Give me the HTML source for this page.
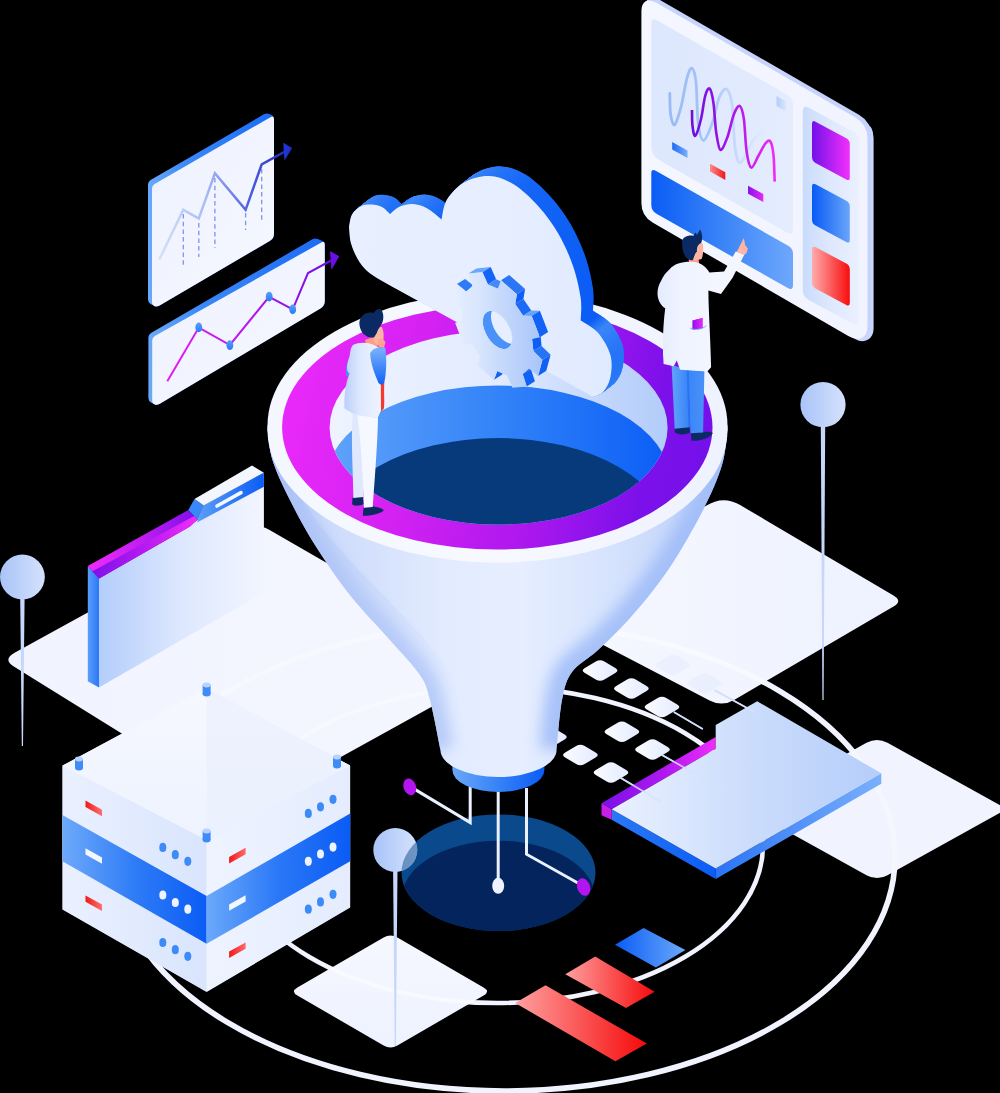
<!DOCTYPE html>
<html><head><meta charset="utf-8"><title>Isometric funnel</title>
<style>html,body{margin:0;padding:0;background:#000;font-family:"Liberation Sans",sans-serif}svg{display:block}</style>
</head><body>
<svg width="1000" height="1093" viewBox="0 0 1000 1093">
<defs>
<linearGradient id="gPlatL" gradientUnits="userSpaceOnUse" x1="14" y1="660" x2="504" y2="660"><stop offset="0" stop-color="#f1f4ff"/><stop offset="1" stop-color="#f5f7ff"/></linearGradient>
<linearGradient id="gPlatR" gradientUnits="userSpaceOnUse" x1="548" y1="600" x2="898" y2="600"><stop offset="0" stop-color="#f6f8ff"/><stop offset="1" stop-color="#eef2ff"/></linearGradient>
<linearGradient id="gTile" gradientUnits="objectBoundingBox" x1="0" y1="0" x2="1" y2="0"><stop offset="0" stop-color="#fbfcff"/><stop offset="1" stop-color="#e3ebff"/></linearGradient>
<linearGradient id="gBarB" gradientUnits="userSpaceOnUse" x1="615" y1="0" x2="685" y2="0"><stop offset="0" stop-color="#0a5cf5"/><stop offset="1" stop-color="#6aa8fa"/></linearGradient>
<linearGradient id="gBarR1" gradientUnits="userSpaceOnUse" x1="565" y1="0" x2="655" y2="0"><stop offset="0" stop-color="#ffa0a0"/><stop offset="1" stop-color="#f60a0a"/></linearGradient>
<linearGradient id="gBarR2" gradientUnits="userSpaceOnUse" x1="515" y1="0" x2="647" y2="0"><stop offset="0" stop-color="#ffa0a0"/><stop offset="1" stop-color="#f60a0a"/></linearGradient>
<linearGradient id="gPlatB" gradientUnits="userSpaceOnUse" x1="0" y1="934" x2="0" y2="1049"><stop offset="0" stop-color="#f6f8ff"/><stop offset="1" stop-color="#eef2ff"/></linearGradient>
<linearGradient id="gSlabTop" gradientUnits="userSpaceOnUse" x1="611" y1="0" x2="881" y2="0"><stop offset="0" stop-color="#eaf1ff"/><stop offset="0.45" stop-color="#cfdffc"/><stop offset="1" stop-color="#b4cdfa"/></linearGradient>
<linearGradient id="gSlabL" gradientUnits="userSpaceOnUse" x1="611" y1="0" x2="716" y2="0"><stop offset="0" stop-color="#2a78f7"/><stop offset="1" stop-color="#0a5cf5"/></linearGradient>
<linearGradient id="gSlabR" gradientUnits="userSpaceOnUse" x1="716" y1="0" x2="881" y2="0"><stop offset="0" stop-color="#2a74f7"/><stop offset="1" stop-color="#7ab0fb"/></linearGradient>
<linearGradient id="gSlabM" gradientUnits="userSpaceOnUse" x1="601" y1="0" x2="716" y2="0"><stop offset="0" stop-color="#7a10ea"/><stop offset="0.55" stop-color="#b018f0"/><stop offset="1" stop-color="#f02cfa"/></linearGradient>
<linearGradient id="gFoldF" gradientUnits="userSpaceOnUse" x1="99" y1="0" x2="264" y2="0"><stop offset="0" stop-color="#b4cdfb"/><stop offset="0.5" stop-color="#dde8fe"/><stop offset="1" stop-color="#f2f5ff"/></linearGradient>
<linearGradient id="gFoldS" gradientUnits="userSpaceOnUse" x1="88" y1="0" x2="99" y2="0"><stop offset="0" stop-color="#5a9cf9"/><stop offset="1" stop-color="#2a78f7"/></linearGradient>
<linearGradient id="gFoldM" gradientUnits="userSpaceOnUse" x1="88" y1="0" x2="198" y2="0"><stop offset="0" stop-color="#f02cfa"/><stop offset="0.5" stop-color="#c01cf0"/><stop offset="1" stop-color="#7a10ea"/></linearGradient>
<linearGradient id="gFoldB" gradientUnits="userSpaceOnUse" x1="199" y1="0" x2="264" y2="0"><stop offset="0" stop-color="#5a9cf9"/><stop offset="1" stop-color="#0a5cf5"/></linearGradient>
<linearGradient id="gFoldM2" gradientUnits="userSpaceOnUse" x1="88" y1="0" x2="198" y2="0"><stop offset="0" stop-color="#7a10ea"/><stop offset="0.5" stop-color="#b41af0"/><stop offset="1" stop-color="#f02cfa"/></linearGradient>
<linearGradient id="gSrvTop" gradientUnits="userSpaceOnUse" x1="0" y1="690" x2="0" y2="840"><stop offset="0" stop-color="#f6f8ff"/><stop offset="1" stop-color="#eef3ff"/></linearGradient>
<linearGradient id="gSrvL" gradientUnits="userSpaceOnUse" x1="62" y1="0" x2="207" y2="0"><stop offset="0" stop-color="#eaf0ff"/><stop offset="1" stop-color="#d9e5fd"/></linearGradient>
<linearGradient id="gSrvR" gradientUnits="userSpaceOnUse" x1="207" y1="0" x2="350" y2="0"><stop offset="0" stop-color="#eef3ff"/><stop offset="1" stop-color="#e4ecfe"/></linearGradient>
<linearGradient id="gSrvBL" gradientUnits="userSpaceOnUse" x1="62" y1="0" x2="207" y2="0"><stop offset="0" stop-color="#6eaafa"/><stop offset="0.5" stop-color="#2f7cf7"/><stop offset="1" stop-color="#0a5cf5"/></linearGradient>
<linearGradient id="gSrvBR" gradientUnits="userSpaceOnUse" x1="207" y1="0" x2="350" y2="0"><stop offset="0" stop-color="#6aa8fa"/><stop offset="0.5" stop-color="#2a78f7"/><stop offset="1" stop-color="#0a5cf5"/></linearGradient>
<linearGradient id="gRedL" gradientUnits="objectBoundingBox" x1="0" y1="0" x2="1" y2="0"><stop offset="0" stop-color="#f01818"/><stop offset="1" stop-color="#ff7070"/></linearGradient>
<linearGradient id="gRedR" gradientUnits="objectBoundingBox" x1="0" y1="0" x2="1" y2="0"><stop offset="0" stop-color="#f01818"/><stop offset="1" stop-color="#ff6a6a"/></linearGradient>
<linearGradient id="gNeckB" gradientUnits="userSpaceOnUse" x1="452" y1="0" x2="545" y2="0"><stop offset="0" stop-color="#6aa8fa"/><stop offset="0.45" stop-color="#3a86f8"/><stop offset="1" stop-color="#0a5cf5"/></linearGradient>
<linearGradient id="gBody" gradientUnits="userSpaceOnUse" x1="267" y1="0" x2="728" y2="0"><stop offset="0" stop-color="#bccff8"/><stop offset="0.14" stop-color="#cedcfb"/><stop offset="0.4" stop-color="#e3ecff"/><stop offset="0.55" stop-color="#e6eeff"/><stop offset="0.76" stop-color="#d5e2fd"/><stop offset="1" stop-color="#b8cdf9"/></linearGradient>
<filter id="fBlur" x="-20%" y="-20%" width="140%" height="140%"><feGaussianBlur stdDeviation="7"/></filter>
<linearGradient id="gShade" gradientUnits="userSpaceOnUse" x1="267" y1="0" x2="470" y2="0"><stop offset="0" stop-color="#a9c0f6" stop-opacity="0.55"/><stop offset="0.5" stop-color="#b9ccf8" stop-opacity="0.35"/><stop offset="1" stop-color="#c8d8fa" stop-opacity="0.0"/></linearGradient>
<linearGradient id="gShadeR" gradientUnits="userSpaceOnUse" x1="600" y1="0" x2="728" y2="0"><stop offset="0" stop-color="#c8d8fa" stop-opacity="0.0"/><stop offset="1" stop-color="#a9c0f6" stop-opacity="0.4"/></linearGradient>
<linearGradient id="gBodyHi" gradientUnits="userSpaceOnUse" x1="0" y1="560" x2="0" y2="700"><stop offset="0" stop-color="#f4f7ff" stop-opacity="0.0"/><stop offset="1" stop-color="#f4f7ff" stop-opacity="0.55"/></linearGradient>
<linearGradient id="gRim" gradientUnits="userSpaceOnUse" x1="267" y1="0" x2="728" y2="0"><stop offset="0" stop-color="#f4f7ff"/><stop offset="0.5" stop-color="#f7f9ff"/><stop offset="1" stop-color="#eef2ff"/></linearGradient>
<linearGradient id="gRing" gradientUnits="userSpaceOnUse" x1="282" y1="385" x2="713" y2="475"><stop offset="0" stop-color="#ea29f9"/><stop offset="0.3" stop-color="#d422f3"/><stop offset="0.6" stop-color="#ae18ee"/><stop offset="0.85" stop-color="#7c10ea"/><stop offset="1" stop-color="#7410ea"/></linearGradient>
<linearGradient id="gWall" gradientUnits="userSpaceOnUse" x1="329" y1="0" x2="667" y2="0"><stop offset="0" stop-color="#eef3ff"/><stop offset="0.5" stop-color="#e2ebff"/><stop offset="0.8" stop-color="#c4d7fb"/><stop offset="1" stop-color="#b2ccfa"/></linearGradient>
<linearGradient id="gInB" gradientUnits="userSpaceOnUse" x1="329" y1="0" x2="667" y2="0"><stop offset="0" stop-color="#5fa2fa"/><stop offset="0.5" stop-color="#3383f8"/><stop offset="1" stop-color="#0b5ef6"/></linearGradient>
<path id="cloud" d="M349,227C349.5,224.9 350,218.1 352,214.6C354,211.1 357.7,207.9 361,206.2C364.3,204.5 368.5,204.4 372,204.5C375.5,204.6 379,205.4 382,207C385,208.6 388.7,212.8 390,214C391.5,212.8 395.2,208.7 399,207C402.8,205.3 408.3,203.8 413,204C417.7,204.2 422.2,205.7 427,208.3C431.8,210.9 439.1,217.6 441.5,219.5C442.4,216.2 443.1,205.8 447,199.5C450.9,193.2 457.9,185.9 465,182C472.1,178.1 481.3,175.6 489.5,176C497.7,176.4 505.8,179.4 514,184.6C522.2,189.8 531.6,198.8 539,207C546.4,215.2 552.8,224.2 558.5,234C564.2,243.8 569.3,255.3 573,266C576.7,276.7 579.4,288.9 580.7,298C582,307.1 580.7,316.7 580.7,320.4C583.6,322.4 593,326.9 598,332.7C603,338.5 608.3,347.6 610.4,355C612.5,362.4 611.6,371 610.4,377.2C609.2,383.4 605.9,388.7 603,392C600.1,395.3 594.7,396.2 593,397L396,288.8C392,286.5 378.1,279.2 372,274.8C365.9,270.4 363.1,267.3 359.6,262.2C356.1,257.1 353,249.9 351.2,244C349.4,238.1 349.4,229.8 349,227Z"/>
<linearGradient id="gCloudS" gradientUnits="userSpaceOnUse" x1="349" y1="0" x2="625" y2="0"><stop offset="0" stop-color="#4a90f9"/><stop offset="0.16" stop-color="#1a6af6"/><stop offset="0.2" stop-color="#3f8af9"/><stop offset="0.36" stop-color="#0c5ef5"/><stop offset="0.4" stop-color="#3a86f8"/><stop offset="0.62" stop-color="#1566f6"/><stop offset="0.86" stop-color="#0a5cf5"/><stop offset="0.9" stop-color="#3a86f8"/><stop offset="1" stop-color="#0f62f6"/></linearGradient>
<linearGradient id="gCloudF" gradientUnits="userSpaceOnUse" x1="349" y1="0" x2="612" y2="0"><stop offset="0" stop-color="#e8efff"/><stop offset="0.6" stop-color="#e6eeff"/><stop offset="1" stop-color="#e0eaff"/></linearGradient>
<linearGradient id="gGearS" gradientUnits="userSpaceOnUse" x1="455" y1="0" x2="550" y2="0"><stop offset="0" stop-color="#6aa8fa"/><stop offset="0.5" stop-color="#3a86f8"/><stop offset="1" stop-color="#0a5cf5"/></linearGradient>
<linearGradient id="gGearF" gradientUnits="userSpaceOnUse" x1="455" y1="0" x2="545" y2="0"><stop offset="0" stop-color="#e6eeff"/><stop offset="0.25" stop-color="#d9e6fe"/><stop offset="0.6" stop-color="#c0d5fb"/><stop offset="1" stop-color="#a6c4fa"/></linearGradient>
<linearGradient id="gPanE" gradientUnits="userSpaceOnUse" x1="149" y1="0" x2="325" y2="0"><stop offset="0" stop-color="#5a9cf9"/><stop offset="1" stop-color="#1a6af6"/></linearGradient>
<linearGradient id="gPanF" gradientUnits="objectBoundingBox" x1="0" y1="0" x2="1" y2="1"><stop offset="0" stop-color="#eef2ff"/><stop offset="1" stop-color="#f6f8ff"/></linearGradient>
<linearGradient id="gPanE1" gradientUnits="userSpaceOnUse" x1="148" y1="0" x2="274" y2="0"><stop offset="0" stop-color="#6aaaf9"/><stop offset="0.3" stop-color="#3b88f8"/><stop offset="1" stop-color="#1a6af6"/></linearGradient>
<linearGradient id="gL1" gradientUnits="userSpaceOnUse" x1="159" y1="0" x2="290" y2="0"><stop offset="0" stop-color="#d4dffb"/><stop offset="0.35" stop-color="#a9bdf5"/><stop offset="0.7" stop-color="#4a5ce0"/><stop offset="1" stop-color="#2226b8"/></linearGradient>
<linearGradient id="gAr1" gradientUnits="userSpaceOnUse" x1="283" y1="0" x2="292" y2="0"><stop offset="0" stop-color="#1a3ae0"/><stop offset="1" stop-color="#2a2ab8"/></linearGradient>
<linearGradient id="gPanE2" gradientUnits="userSpaceOnUse" x1="148" y1="0" x2="325" y2="0"><stop offset="0" stop-color="#6aaaf9"/><stop offset="0.3" stop-color="#3b88f8"/><stop offset="1" stop-color="#1a6af6"/></linearGradient>
<linearGradient id="gL2" gradientUnits="userSpaceOnUse" x1="168" y1="0" x2="335" y2="0"><stop offset="0" stop-color="#e41cf0"/><stop offset="0.5" stop-color="#b416ee"/><stop offset="1" stop-color="#6a10e4"/></linearGradient>
<linearGradient id="gDot" gradientUnits="objectBoundingBox" x1="0" y1="0" x2="0" y2="1"><stop offset="0" stop-color="#5a9ef9"/><stop offset="1" stop-color="#2a7af7"/></linearGradient>
<linearGradient id="gDash" gradientUnits="userSpaceOnUse" x1="641" y1="0" x2="874" y2="0"><stop offset="0" stop-color="#f4f7ff"/><stop offset="1" stop-color="#f1f4ff"/></linearGradient>
<linearGradient id="gDIn" gradientUnits="userSpaceOnUse" x1="651" y1="0" x2="793" y2="0"><stop offset="0" stop-color="#dde7fd"/><stop offset="1" stop-color="#e4ecfe"/></linearGradient>
<linearGradient id="gDBar" gradientUnits="userSpaceOnUse" x1="651" y1="0" x2="793" y2="0"><stop offset="0" stop-color="#0a5cf5"/><stop offset="0.5" stop-color="#3a84f8"/><stop offset="1" stop-color="#6ea8fb"/></linearGradient>
<linearGradient id="gDCol" gradientUnits="userSpaceOnUse" x1="803" y1="0" x2="859" y2="0"><stop offset="0" stop-color="#c9dcfc"/><stop offset="0.5" stop-color="#dfe8fd"/><stop offset="1" stop-color="#eaf0ff"/></linearGradient>
<linearGradient id="gDP" gradientUnits="userSpaceOnUse" x1="811" y1="0" x2="850" y2="0"><stop offset="0" stop-color="#7010e8"/><stop offset="1" stop-color="#f230fb"/></linearGradient>
<linearGradient id="gDB" gradientUnits="userSpaceOnUse" x1="811" y1="0" x2="850" y2="0"><stop offset="0" stop-color="#0558f5"/><stop offset="1" stop-color="#6aa6fa"/></linearGradient>
<linearGradient id="gDR" gradientUnits="userSpaceOnUse" x1="811" y1="0" x2="850" y2="0"><stop offset="0" stop-color="#ffb0b0"/><stop offset="1" stop-color="#f80c0c"/></linearGradient>
<linearGradient id="gW1" gradientUnits="userSpaceOnUse" x1="669" y1="0" x2="762" y2="0"><stop offset="0" stop-color="#98baf7"/><stop offset="0.45" stop-color="#a8c5f8"/><stop offset="0.75" stop-color="#cbdcfc"/><stop offset="1" stop-color="#e0e9fe"/></linearGradient>
<linearGradient id="gW2" gradientUnits="userSpaceOnUse" x1="690" y1="0" x2="775" y2="0"><stop offset="0" stop-color="#6a0ed8"/><stop offset="0.45" stop-color="#a414ea"/><stop offset="1" stop-color="#f02cf8"/></linearGradient>
<linearGradient id="gLs" gradientUnits="objectBoundingBox" x1="0" y1="0" x2="1" y2="0"><stop offset="0" stop-color="#b4cdfa"/><stop offset="1" stop-color="#dbe6fd"/></linearGradient>
<linearGradient id="gLb" gradientUnits="objectBoundingBox" x1="0" y1="0" x2="1" y2="0"><stop offset="0" stop-color="#1a6af6"/><stop offset="1" stop-color="#7ab0fb"/></linearGradient>
<linearGradient id="gLr" gradientUnits="objectBoundingBox" x1="0" y1="0" x2="1" y2="0"><stop offset="0" stop-color="#ff8a8a"/><stop offset="1" stop-color="#f01818"/></linearGradient>
<linearGradient id="gLp" gradientUnits="objectBoundingBox" x1="0" y1="0" x2="1" y2="0"><stop offset="0" stop-color="#8a12ea"/><stop offset="1" stop-color="#e428f8"/></linearGradient>
<linearGradient id="gPin" gradientUnits="objectBoundingBox" x1="0" y1="0" x2="1" y2="0"><stop offset="0" stop-color="#a9c4f8"/><stop offset="1" stop-color="#d4e1fc"/></linearGradient>
<linearGradient id="gJ1" gradientUnits="userSpaceOnUse" x1="344" y1="0" x2="381" y2="0"><stop offset="0" stop-color="#b9cff9"/><stop offset="0.45" stop-color="#dfe9fe"/><stop offset="1" stop-color="#eef3ff"/></linearGradient>
<linearGradient id="gSl1" gradientUnits="userSpaceOnUse" x1="369" y1="0" x2="386" y2="0"><stop offset="0" stop-color="#7ab2fb"/><stop offset="0.5" stop-color="#3a84f8"/><stop offset="1" stop-color="#0f62f6"/></linearGradient>
<linearGradient id="gSl1v" gradientUnits="userSpaceOnUse" x1="0" y1="348" x2="0" y2="385"><stop offset="0" stop-color="#7ab2fb"/><stop offset="1" stop-color="#0f62f6"/></linearGradient>
<linearGradient id="gLeg2" gradientUnits="userSpaceOnUse" x1="671" y1="0" x2="705" y2="0"><stop offset="0" stop-color="#64a4fa"/><stop offset="0.5" stop-color="#3a86f8"/><stop offset="1" stop-color="#4a90f9"/></linearGradient>
<linearGradient id="gCoat2" gradientUnits="userSpaceOnUse" x1="656" y1="0" x2="712" y2="0"><stop offset="0" stop-color="#e3ebfe"/><stop offset="0.4" stop-color="#eef3ff"/><stop offset="1" stop-color="#f3f6ff"/></linearGradient>
<linearGradient id="gPk" gradientUnits="userSpaceOnUse" x1="692" y1="0" x2="702" y2="0"><stop offset="0" stop-color="#8a12ea"/><stop offset="1" stop-color="#e428f8"/></linearGradient>
</defs>
<rect width="1000" height="1093" fill="#000"/>
<ellipse cx="504" cy="857" rx="391" ry="234" fill="none" stroke="#f1f4ff" stroke-width="5.6"/>
<ellipse cx="497" cy="845" rx="266" ry="158" fill="none" stroke="#f1f4ff" stroke-width="4.6"/>
<path d="M14.2,666.8Q2.3,659.4 14.6,652.7L238.2,529.7Q254,521 269.6,530L489.8,657Q505.4,666 489.6,674.7L260.8,801.3Q245,810 229.7,800.5Z" fill="url(#gPlatL)"/>
<path d="M557.7,621.3Q540,612 556.9,601.2L706.1,505.8Q723,495 740.2,505.1L893.5,595.4Q903,601 893.5,606.6L734.1,699.9Q722,707 709.6,700.5Z" fill="url(#gPlatR)"/>
<clipPath id="cPR"><path d="M557.7,621.3Q540,612 556.9,601.2L706.1,505.8Q723,495 740.2,505.1L893.5,595.4Q903,601 893.5,606.6L734.1,699.9Q722,707 709.6,700.5Z"/></clipPath>
<g clip-path="url(#cPR)" opacity="0.55"><ellipse cx="504" cy="857" rx="391" ry="234" fill="none" stroke="#fdfdff" stroke-width="5"/></g>
<path d="M657.7,667.6Q653.4,665.1 657.7,662.6L668.6,656.1Q672.9,653.6 677.2,656.1L688.1,662.6Q692.4,665.1 688.1,667.6L677.2,674.1Q672.9,676.6 668.6,674.1Z" fill="#e3eafd" opacity="0.55" clip-path="url(#cPR)"/>
<path d="M689.3,685.8Q685,683.3 689.3,680.8L700.2,674.3Q704.5,671.8 708.8,674.3L719.7,680.8Q724,683.3 719.7,685.8L708.8,692.3Q704.5,694.8 700.2,692.3Z" fill="#e3eafd" opacity="0.55" clip-path="url(#cPR)"/>
<clipPath id="cPL"><path d="M14.2,666.8Q2.3,659.4 14.6,652.7L238.2,529.7Q254,521 269.6,530L489.8,657Q505.4,666 489.6,674.7L260.8,801.3Q245,810 229.7,800.5Z"/></clipPath>
<g clip-path="url(#cPL)" opacity="0.5"><ellipse cx="504" cy="857" rx="391" ry="234" fill="none" stroke="#fbfcff" stroke-width="5"/><ellipse cx="497" cy="845" rx="266" ry="158" fill="none" stroke="#fbfcff" stroke-width="4"/></g>
<clipPath id="cHole"><ellipse cx="498.5" cy="872.7" rx="97" ry="58.3"/></clipPath>
<ellipse cx="498.5" cy="872.7" rx="97" ry="58.3" fill="#0a4a8c"/>
<ellipse cx="498.5" cy="899" rx="97" ry="58.3" fill="#03245c" clip-path="url(#cHole)"/>
<path d="M584.9,673.1Q580.6,670.6 584.9,668.1L595.8,661.6Q600.1,659.1 604.4,661.6L615.3,668.1Q619.6,670.6 615.3,673.1L604.4,679.6Q600.1,682.1 595.8,679.6Z" fill="url(#gTile)"/>
<path d="M616.2,691.1Q611.9,688.6 616.2,686.1L627.1,679.6Q631.4,677.1 635.7,679.6L646.6,686.1Q650.9,688.6 646.6,691.1L635.7,697.6Q631.4,700.1 627.1,697.6Z" fill="url(#gTile)"/>
<path d="M646.8,709.5Q642.5,707 646.8,704.5L657.7,698Q662,695.5 666.3,698L677.2,704.5Q681.5,707 677.2,709.5L666.3,716Q662,718.5 657.7,716Z" fill="url(#gTile)"/>
<path d="M606.7,734.3Q602.4,731.8 606.7,729.3L617.6,722.8Q621.9,720.3 626.2,722.8L637.1,729.3Q641.4,731.8 637.1,734.3L626.2,740.8Q621.9,743.3 617.6,740.8Z" fill="url(#gTile)"/>
<path d="M637.3,752Q633,749.5 637.3,747L648.2,740.5Q652.5,738 656.8,740.5L667.7,747Q672,749.5 667.7,752L656.8,758.5Q652.5,761 648.2,758.5Z" fill="url(#gTile)"/>
<path d="M565.2,757.4Q560.9,754.9 565.2,752.4L576.1,745.9Q580.4,743.4 584.7,745.9L595.6,752.4Q599.9,754.9 595.6,757.4L584.7,763.9Q580.4,766.4 576.1,763.9Z" fill="url(#gTile)"/>
<path d="M595.8,775.1Q591.5,772.6 595.8,770.1L606.7,763.6Q611,761.1 615.3,763.6L626.2,770.1Q630.5,772.6 626.2,775.1L615.3,781.6Q611,784.1 606.7,781.6Z" fill="url(#gTile)"/>
<path d="M534.2,739.5Q529.9,737 534.2,734.5L545.1,728Q549.4,725.5 553.7,728L564.6,734.5Q568.9,737 564.6,739.5L553.7,746Q549.4,748.5 545.1,746Z" fill="url(#gTile)"/>
<line x1="673.9" y1="712.1" x2="702.8" y2="729.1" stroke="#c4d6f8" stroke-width="1.6"/>
<line x1="714.7" y1="690.3" x2="754.5" y2="712.1" stroke="#c4d6f8" stroke-width="1.6"/>
<line x1="662" y1="755" x2="723.2" y2="789.6" stroke="#c4d6f8" stroke-width="1.6"/>
<line x1="620.5" y1="777.7" x2="660.3" y2="801.5" stroke="#c4d6f8" stroke-width="1.6"/>
<polygon points="615,944.7 643.6,928 685.4,950 655.9,967.6" fill="url(#gBarB)"/>
<polygon points="565.3,974.2 595.2,956.6 654.6,991.8 626,1008" fill="url(#gBarR1)"/>
<polygon points="515.2,1003 545.5,985.3 646.8,1043.5 615.4,1061.2" fill="url(#gBarR2)"/>
<path d="M759.2,815.8Q747,809 759.2,802.2L866.5,742.8Q877,737 887.5,742.8L998.3,804.2Q1007,809 998.3,813.8L887.5,875.2Q877,881 866.5,875.2Z" fill="#f1f4ff"/>
<clipPath id="cPS"><path d="M759.2,815.8Q747,809 759.2,802.2L866.5,742.8Q877,737 887.5,742.8L998.3,804.2Q1007,809 998.3,813.8L887.5,875.2Q877,881 866.5,875.2Z"/></clipPath>
<g clip-path="url(#cPS)" opacity="0.4"><ellipse cx="504" cy="857" rx="391" ry="234" fill="none" stroke="#fdfdff" stroke-width="5.6"/></g>
<path d="M297.4,995.5Q290.5,991.5 297.4,987.5L383.6,937.5Q390.5,933.5 397.4,937.5L483.6,987.5Q490.5,991.5 483.6,995.5L397.4,1045.5Q390.5,1049.5 383.6,1045.5Z" fill="url(#gPlatB)"/>
<clipPath id="cPB"><path d="M297.4,995.5Q290.5,991.5 297.4,987.5L383.6,937.5Q390.5,933.5 397.4,937.5L483.6,987.5Q490.5,991.5 483.6,995.5L397.4,1045.5Q390.5,1049.5 383.6,1045.5Z"/></clipPath>
<g clip-path="url(#cPB)" opacity="0.6"><ellipse cx="497" cy="845" rx="266" ry="158" fill="none" stroke="#fdfdff" stroke-width="4"/></g>
<polygon points="611.7,809.3 715.7,868.5 715.7,879 611.7,819.8" fill="url(#gSlabL)"/>
<polygon points="715.7,868.5 881.3,773.3 881.3,783.8 715.7,879" fill="url(#gSlabR)"/>
<polygon points="601.5,803.2 715.7,736.9 715.7,748.8 611.7,809.3" fill="url(#gSlabM)"/>
<polygon points="601.5,803.2 611.7,809.3 611.7,819.8 601.5,815.2" fill="#c81ee8"/>
<polygon points="611.7,809.3 715.7,748.8 715.7,725 757.2,701.2 881.3,773.3 715.7,868.5" fill="url(#gSlabTop)"/>
<line x1="673.9" y1="712.1" x2="702.8" y2="729.1" stroke="#d6e3fd" stroke-width="1.7" opacity="0.85"/>
<line x1="714.7" y1="690.3" x2="754.5" y2="712.1" stroke="#d6e3fd" stroke-width="1.7" opacity="0.85"/>
<line x1="662" y1="755" x2="723.2" y2="789.6" stroke="#d6e3fd" stroke-width="1.7" opacity="0.85"/>
<line x1="620.5" y1="777.7" x2="660.3" y2="801.5" stroke="#d6e3fd" stroke-width="1.7" opacity="0.85"/>
<polygon points="87.8,566 99,578.5 99,687.4 87.8,681.2" fill="url(#gFoldS)"/>
<polygon points="99,578.5 186.7,528 197.6,519.4 203.8,505.4 263.9,472.7 263.9,592.5 99,687.4" fill="url(#gFoldF)"/>
<polygon points="87.8,566 188.3,510 197.6,519.4 190,526.5 99,578.5" fill="url(#gFoldM)"/>
<polygon points="92.5,571.2 194.2,516 197.6,519.4 190,526.5 99,578.5" fill="url(#gFoldM2)"/>
<polygon points="188.3,510 194.5,499.1 203.8,505.4 197.6,519.4" fill="#3a88f8"/>
<polygon points="194.5,499.1 252,465.5 263.9,472.7 203.8,505.4" fill="#f3f6ff"/>
<polygon points="203.8,505.4 263.9,472.7 263.9,486.7 197,522.5 199.5,515" fill="url(#gFoldB)"/>
<line x1="217" y1="506" x2="241" y2="492.6" stroke="#f4f7ff" stroke-width="3.6" stroke-linecap="round"/>
<polygon points="62.8,765.6 206.6,688.4 349.8,765.6 349.8,907.2 206.6,991.5 62.8,909.2" fill="#e9effe"/>
<polygon points="62.4,765.6 206.6,839.9 206.6,991.9 62.4,909.6" fill="url(#gSrvL)"/>
<polygon points="206.6,839.9 350.2,765.6 350.2,907.6 206.6,991.9" fill="url(#gSrvR)"/>
<polygon points="62.4,815 206.6,896 206.6,943.8 62.4,861.3" fill="url(#gSrvBL)"/>
<polygon points="206.6,896 350.2,813.4 350.2,861.3 206.6,943.8" fill="url(#gSrvBR)"/>
<polygon points="62.4,765.6 206.6,688 350.2,765.6 206.6,839.9" fill="url(#gSrvTop)"/>
<polygon points="206.6,688 350.2,765.6 206.6,839.9" fill="#e9effe" opacity="0.7"/>
<polygon points="85.5,800.6 102,809.8 102,816.2 85.5,807" fill="url(#gRedL)"/>
<polygon points="85.5,848.2 102,857.4 102,863.8 85.5,854.6" fill="#f4f7ff"/>
<polygon points="85.5,895.4 102,904.6 102,911 85.5,901.8" fill="url(#gRedL)"/>
<polygon points="229.1,857 245.6,847.8 245.6,854.2 229.1,863.4" fill="url(#gRedR)"/>
<polygon points="229.1,904.4 245.6,895.2 245.6,901.6 229.1,910.8" fill="#f4f7ff"/>
<polygon points="229.1,951.6 245.6,942.4 245.6,948.8 229.1,958" fill="url(#gRedR)"/>
<ellipse cx="162.8" cy="847.4" rx="3.5" ry="4.6" fill="#3d8bf8"/>
<ellipse cx="175.3" cy="854.7" rx="3.5" ry="4.6" fill="#3d8bf8"/>
<ellipse cx="187.8" cy="861.3" rx="3.5" ry="4.6" fill="#3d8bf8"/>
<ellipse cx="162.8" cy="895" rx="3.5" ry="4.6" fill="#eef3ff"/>
<ellipse cx="175.3" cy="902.5" rx="3.5" ry="4.6" fill="#eef3ff"/>
<ellipse cx="187.8" cy="909.2" rx="3.5" ry="4.6" fill="#eef3ff"/>
<ellipse cx="162.8" cy="942.5" rx="3.5" ry="4.6" fill="#3d8bf8"/>
<ellipse cx="175.3" cy="949.7" rx="3.5" ry="4.6" fill="#3d8bf8"/>
<ellipse cx="187.8" cy="956.3" rx="3.5" ry="4.6" fill="#3d8bf8"/>
<ellipse cx="308.3" cy="813.4" rx="3.5" ry="4.6" fill="#3d8bf8"/>
<ellipse cx="320.5" cy="806.8" rx="3.5" ry="4.6" fill="#3d8bf8"/>
<ellipse cx="333" cy="799.3" rx="3.5" ry="4.6" fill="#3d8bf8"/>
<ellipse cx="308.3" cy="861.3" rx="3.5" ry="4.6" fill="#eef3ff"/>
<ellipse cx="320.5" cy="854" rx="3.5" ry="4.6" fill="#eef3ff"/>
<ellipse cx="333" cy="847.1" rx="3.5" ry="4.6" fill="#eef3ff"/>
<ellipse cx="308.3" cy="909.2" rx="3.5" ry="4.6" fill="#3d8bf8"/>
<ellipse cx="320.5" cy="901.9" rx="3.5" ry="4.6" fill="#3d8bf8"/>
<ellipse cx="333" cy="894.3" rx="3.5" ry="4.6" fill="#3d8bf8"/>
<rect x="202.6" y="685" width="8" height="9" fill="#3f8cf8"/>
<ellipse cx="206.6" cy="694" rx="4" ry="2.4" fill="#3f8cf8"/>
<ellipse cx="206.6" cy="685" rx="4" ry="2.4" fill="#b8d2fb"/>
<rect x="75" y="759" width="8" height="9" fill="#3f8cf8"/>
<ellipse cx="79" cy="768" rx="4" ry="2.4" fill="#3f8cf8"/>
<ellipse cx="79" cy="759" rx="4" ry="2.4" fill="#b8d2fb"/>
<rect x="333" y="757" width="8" height="9" fill="#3f8cf8"/>
<ellipse cx="337" cy="766" rx="4" ry="2.4" fill="#3f8cf8"/>
<ellipse cx="337" cy="757" rx="4" ry="2.4" fill="#b8d2fb"/>
<rect x="202.6" y="831" width="8" height="9" fill="#3f8cf8"/>
<ellipse cx="206.6" cy="840" rx="4" ry="2.4" fill="#3f8cf8"/>
<ellipse cx="206.6" cy="831" rx="4" ry="2.4" fill="#b8d2fb"/>
<polyline points="470.2,786 470.2,822.6 415.3,789.6" fill="none" stroke="#eaf0ff" stroke-width="3"/>
<ellipse cx="409.8" cy="786.9" rx="6.2" ry="8.6" fill="#b414ee" transform="rotate(-20 409.8 786.9)"/>
<line x1="498.2" y1="790" x2="498.2" y2="884" stroke="#eaf0ff" stroke-width="3"/>
<ellipse cx="498.2" cy="885.8" rx="6" ry="8" fill="#eef3ff"/>
<polyline points="526.5,788 526.5,854.2 582.8,885.7" fill="none" stroke="#eaf0ff" stroke-width="3"/>
<ellipse cx="583.6" cy="887" rx="6.4" ry="9" fill="#b414ee" transform="rotate(-20 583.6 887)"/>
<path d="M452.4,757 L452.4,770 A46,22 0 0 0 544.4,770 L544.4,757 Z" fill="url(#gNeckB)"/>
<path d="M267.5,428C268.3,433.3 268.8,448 272.5,460C276.2,472 282.9,485.8 290,500C297.1,514.2 305,529.2 315,545C325,560.8 337.5,579.2 350,595C362.5,610.8 378.3,626.7 390,640C401.7,653.3 413.3,665 420,675C426.7,685 426.6,687.5 430,700C433.4,712.5 438.8,741.7 440.5,750A58,27 0 0 0 556.5,750C557.4,741.7 559.4,713 562,700C564.6,687 566,680.3 572,672C578,663.7 588.3,659 598,650C607.7,641 618.3,631.3 630,618C641.7,604.7 656,587.7 668,570C680,552.3 693,529.5 702,512C711,494.5 717.8,479 722,465C726.2,451 726.6,434.2 727.5,428Z" fill="url(#gBody)"/>
<clipPath id="cBody"><path d="M267.5,428C268.3,433.3 268.8,448 272.5,460C276.2,472 282.9,485.8 290,500C297.1,514.2 305,529.2 315,545C325,560.8 337.5,579.2 350,595C362.5,610.8 378.3,626.7 390,640C401.7,653.3 413.3,665 420,675C426.7,685 426.6,687.5 430,700C433.4,712.5 438.8,741.7 440.5,750A58,27 0 0 0 556.5,750C557.4,741.7 559.4,713 562,700C564.6,687 566,680.3 572,672C578,663.7 588.3,659 598,650C607.7,641 618.3,631.3 630,618C641.7,604.7 656,587.7 668,570C680,552.3 693,529.5 702,512C711,494.5 717.8,479 722,465C726.2,451 726.6,434.2 727.5,428Z"/></clipPath>
<g clip-path="url(#cBody)"><path d="M556.5,750C557.4,741.7 559.4,713 562,700C564.6,687 566,680.3 572,672C578,663.7 588.3,659 598,650C607.7,641 618.3,631.3 630,618C641.7,604.7 656,587.7 668,570C680,552.3 693,529.5 702,512C711,494.5 717.8,479 722,465C726.2,451 726.6,434.2 727.5,428" fill="none" stroke="#9fbcf8" stroke-width="34" filter="url(#fBlur)" opacity="0.85"/><path d="M267.5,428C268.3,433.3 268.8,448 272.5,460C276.2,472 282.9,485.8 290,500C297.1,514.2 305,529.2 315,545C325,560.8 337.5,579.2 350,595C362.5,610.8 378.3,626.7 390,640C401.7,653.3 413.3,665 420,675C426.7,685 426.6,687.5 430,700C433.4,712.5 438.8,741.7 440.5,750" fill="none" stroke="#a4bdf6" stroke-width="26" filter="url(#fBlur)" opacity="0.7"/></g>
<path d="M267.5,428C268.3,433.3 268.8,448 272.5,460C276.2,472 282.9,485.8 290,500C297.1,514.2 305,529.2 315,545C325,560.8 337.5,579.2 350,595C362.5,610.8 378.3,626.7 390,640C401.7,653.3 413.3,665 420,675C426.7,685 426.6,687.5 430,700C433.4,712.5 438.8,741.7 440.5,750L462,742C461.3,735 460,711.7 458,700C456,688.3 455.5,682 450,672C444.5,662 435.3,652 425,640C414.7,628 401.3,614.2 388,600C374.7,585.8 358.8,570.8 345,555C331.2,539.2 316.2,521.7 305,505C293.8,488.3 284.2,467.8 278,455C271.8,442.2 269.2,432.5 267.5,428Z" fill="url(#gShade)"/>
<path d="M267.5,425.5 L267.5,429.7 A230,133 0 0 0 727.5,429.7 L727.5,425.5 Z" fill="url(#gRim)"/>
<ellipse cx="497.5" cy="425.5" rx="230" ry="133" fill="url(#gRim)"/>
<ellipse cx="497.3" cy="427.3" rx="215.2" ry="122.2" fill="url(#gRing)"/>
<ellipse cx="498.6" cy="427.7" rx="169" ry="96.8" fill="url(#gWall)"/>
<clipPath id="cIn"><ellipse cx="498.6" cy="427.7" rx="169" ry="96.8"/></clipPath>
<ellipse cx="498" cy="480.5" rx="172" ry="95" fill="url(#gInB)" clip-path="url(#cIn)"/>
<ellipse cx="498" cy="536" rx="170" ry="98" fill="#063a7a" clip-path="url(#cIn)"/>
<use href="#cloud" transform="translate(12.3,-9.6)" fill="url(#gCloudS)"/>
<use href="#cloud" transform="translate(11.9,-9.3)" fill="url(#gCloudS)"/>
<use href="#cloud" transform="translate(11.6,-9)" fill="url(#gCloudS)"/>
<use href="#cloud" transform="translate(11.2,-8.8)" fill="url(#gCloudS)"/>
<use href="#cloud" transform="translate(10.9,-8.5)" fill="url(#gCloudS)"/>
<use href="#cloud" transform="translate(10.5,-8.2)" fill="url(#gCloudS)"/>
<use href="#cloud" transform="translate(10.1,-7.9)" fill="url(#gCloudS)"/>
<use href="#cloud" transform="translate(9.8,-7.6)" fill="url(#gCloudS)"/>
<use href="#cloud" transform="translate(9.4,-7.3)" fill="url(#gCloudS)"/>
<use href="#cloud" transform="translate(9,-7.1)" fill="url(#gCloudS)"/>
<use href="#cloud" transform="translate(8.7,-6.8)" fill="url(#gCloudS)"/>
<use href="#cloud" transform="translate(8.3,-6.5)" fill="url(#gCloudS)"/>
<use href="#cloud" transform="translate(8,-6.2)" fill="url(#gCloudS)"/>
<use href="#cloud" transform="translate(7.6,-5.9)" fill="url(#gCloudS)"/>
<use href="#cloud" transform="translate(7.2,-5.6)" fill="url(#gCloudS)"/>
<use href="#cloud" transform="translate(6.9,-5.4)" fill="url(#gCloudS)"/>
<use href="#cloud" transform="translate(6.5,-5.1)" fill="url(#gCloudS)"/>
<use href="#cloud" transform="translate(6.2,-4.8)" fill="url(#gCloudS)"/>
<use href="#cloud" transform="translate(5.8,-4.5)" fill="url(#gCloudS)"/>
<use href="#cloud" transform="translate(5.4,-4.2)" fill="url(#gCloudS)"/>
<use href="#cloud" transform="translate(5.1,-4)" fill="url(#gCloudS)"/>
<use href="#cloud" transform="translate(4.7,-3.7)" fill="url(#gCloudS)"/>
<use href="#cloud" transform="translate(4.3,-3.4)" fill="url(#gCloudS)"/>
<use href="#cloud" transform="translate(4,-3.1)" fill="url(#gCloudS)"/>
<use href="#cloud" transform="translate(3.6,-2.8)" fill="url(#gCloudS)"/>
<use href="#cloud" transform="translate(3.3,-2.5)" fill="url(#gCloudS)"/>
<use href="#cloud" transform="translate(2.9,-2.3)" fill="url(#gCloudS)"/>
<use href="#cloud" transform="translate(2.5,-2)" fill="url(#gCloudS)"/>
<use href="#cloud" transform="translate(2.2,-1.7)" fill="url(#gCloudS)"/>
<use href="#cloud" transform="translate(1.8,-1.4)" fill="url(#gCloudS)"/>
<use href="#cloud" transform="translate(1.4,-1.1)" fill="url(#gCloudS)"/>
<use href="#cloud" transform="translate(1.1,-0.8)" fill="url(#gCloudS)"/>
<use href="#cloud" transform="translate(0.7,-0.6)" fill="url(#gCloudS)"/>
<use href="#cloud" transform="translate(0.4,-0.3)" fill="url(#gCloudS)"/>
<use href="#cloud" fill="url(#gCloudF)"/>
<polygon points="468.3,273.6 482.5,272.3 490.7,267.1 476.5,268.4" fill="#6aa8fa"/>
<polygon points="482.5,272.3 487.9,284.5 496.1,279.3 490.7,267.1" fill="#1464f5"/>
<polygon points="487.9,284.5 497.8,288.7 506,283.5 496.1,279.3" fill="#458bf8"/>
<polygon points="501,280.2 516.9,294.3 525.1,289.1 509.2,275" fill="#2b76f6"/>
<polygon points="516.9,294.3 515.2,304.1 523.4,298.9 525.1,289.1" fill="#0d5ff5"/>
<polygon points="515.2,304.1 523.1,315.7 531.3,310.5 523.4,298.9" fill="#1c6af5"/>
<polygon points="523.1,315.7 531.7,316 539.9,310.8 531.3,310.5" fill="#66a5f9"/>
<polygon points="531.7,316 539.9,337.2 548.1,332 539.9,310.8" fill="#1263f5"/>
<polygon points="532.1,338.9 533.4,351.1 541.6,345.9 540.3,333.7" fill="#0c5ef5"/>
<polygon points="533.4,351.1 542.4,360 550.6,354.8 541.6,345.9" fill="#2773f6"/>
<polygon points="542.4,360 538.1,375.9 546.3,370.7 550.6,354.8" fill="#0f60f5"/>
<polygon points="528.8,368.5 522.7,374.1 530.9,368.9 537,363.3" fill="#2a75f6"/>
<polygon points="522.7,374.1 526.7,386.4 534.9,381.2 530.9,368.9" fill="#1061f5"/>
<polygon points="497.2,371.3 494,379.8 502.2,374.6 505.4,366.1" fill="#1262f5"/>
<polygon points="456.9,284.1 466.2,291.5 474.4,286.3 465.1,278.9" fill="#2f7af6"/>
<path d="M472.3,285.9 L468.3,273.6 L482.5,272.3 L487.9,284.5 L497.8,288.7 L501,280.2 L516.9,294.3 L515.2,304.1 L523.1,315.7 L531.7,316 L539.9,337.2 L532.1,338.9 L533.4,351.1 L542.4,360 L538.1,375.9 L528.8,368.5 L522.7,374.1 L526.7,386.4 L512.5,387.7 L507.1,375.5 L497.2,371.3 L494,379.8 L478.1,365.7 L479.8,355.9 L471.9,344.3 L463.3,344 L455.1,322.8 L462.9,321.1 L461.6,308.9 L452.6,300 L456.9,284.1 L466.2,291.5ZM512.1,336.2 L511.7,333.8 L511.1,331.3 L510.2,328.9 L509.2,326.4 L507.9,324 L506.5,321.7 L504.9,319.5 L503.1,317.5 L501.3,315.8 L499.4,314.3 L497.5,313 L495.6,312 L493.7,311.4 L491.9,311 L490.1,311 L488.5,311.3 L487.1,312 L485.8,312.9 L484.8,314.1 L483.9,315.6 L483.3,317.4 L482.9,319.4 L482.8,321.5 L482.9,323.8 L483.3,326.2 L483.9,328.7 L484.8,331.1 L485.8,333.6 L487.1,336 L488.5,338.3 L490.1,340.5 L491.9,342.5 L493.7,344.2 L495.6,345.7 L497.5,347 L499.4,348 L501.3,348.6 L503.1,349 L504.9,349 L506.5,348.7 L507.9,348 L509.2,347.1 L510.2,345.9 L511.1,344.4 L511.7,342.6 L512.1,340.6 L512.2,338.5Z" fill="url(#gGearF)" fill-rule="evenodd"/>
<clipPath id="cGH"><path d="M512.2,338.5 L512.1,340.6 L511.7,342.6 L511.1,344.4 L510.2,345.9 L509.2,347.1 L507.9,348 L506.5,348.7 L504.9,349 L503.1,349 L501.3,348.6 L499.4,348 L497.5,347 L495.6,345.7 L493.7,344.2 L491.9,342.5 L490.1,340.5 L488.5,338.3 L487.1,336 L485.8,333.6 L484.8,331.1 L483.9,328.7 L483.3,326.2 L482.9,323.8 L482.8,321.5 L482.9,319.4 L483.3,317.4 L483.9,315.6 L484.8,314.1 L485.8,312.9 L487.1,312 L488.5,311.3 L490.1,311 L491.9,311 L493.7,311.4 L495.6,312 L497.5,313 L499.4,314.3 L501.3,315.8 L503.1,317.5 L504.9,319.5 L506.5,321.7 L507.9,324 L509.2,326.4 L510.2,328.9 L511.1,331.3 L511.7,333.8 L512.1,336.2Z"/></clipPath>
<path d="M512.2,338.5 L512.1,340.6 L511.7,342.6 L511.1,344.4 L510.2,345.9 L509.2,347.1 L507.9,348 L506.5,348.7 L504.9,349 L503.1,349 L501.3,348.6 L499.4,348 L497.5,347 L495.6,345.7 L493.7,344.2 L491.9,342.5 L490.1,340.5 L488.5,338.3 L487.1,336 L485.8,333.6 L484.8,331.1 L483.9,328.7 L483.3,326.2 L482.9,323.8 L482.8,321.5 L482.9,319.4 L483.3,317.4 L483.9,315.6 L484.8,314.1 L485.8,312.9 L487.1,312 L488.5,311.3 L490.1,311 L491.9,311 L493.7,311.4 L495.6,312 L497.5,313 L499.4,314.3 L501.3,315.8 L503.1,317.5 L504.9,319.5 L506.5,321.7 L507.9,324 L509.2,326.4 L510.2,328.9 L511.1,331.3 L511.7,333.8 L512.1,336.2Z" fill="#4a92f9" clip-path="url(#cGH)"/>
<path d="M520.4,333.3 L520.3,335.4 L519.9,337.4 L519.3,339.2 L518.4,340.7 L517.4,341.9 L516.1,342.8 L514.7,343.5 L513.1,343.8 L511.3,343.8 L509.5,343.4 L507.6,342.8 L505.7,341.8 L503.8,340.5 L501.9,339 L500.1,337.3 L498.3,335.3 L496.7,333.1 L495.3,330.8 L494,328.4 L493,325.9 L492.1,323.5 L491.5,321 L491.1,318.6 L491,316.3 L491.1,314.2 L491.5,312.2 L492.1,310.4 L493,308.9 L494,307.7 L495.3,306.8 L496.7,306.1 L498.3,305.8 L500.1,305.8 L501.9,306.2 L503.8,306.8 L505.7,307.8 L507.6,309.1 L509.5,310.6 L511.3,312.3 L513.1,314.3 L514.7,316.5 L516.1,318.8 L517.4,321.2 L518.4,323.7 L519.3,326.1 L519.9,328.6 L520.3,331Z" fill="#e6eeff" clip-path="url(#cGH)"/>
<path d="M148,184.5Q148,181.5 150.6,180L263.9,114.3Q266.5,112.8 269.3,114L271.2,114.8Q274,116 274,119L274,234.5Q274,238.5 270.5,240.5L160,305.2Q156.5,307.2 153,305.3L150.6,304Q148,302.5 148,299.5Z" fill="url(#gPanE1)"/>
<path d="M152,188.5Q152,185.5 154.6,184L270.5,117.2Q274,115.2 274,119.2L274,233.5Q274,238.5 269.7,241L160,305.2Q156.5,307.2 154.2,305.9L153.7,305.5Q152,304.5 152,302.5Z" fill="url(#gPanF)"/>
<polyline points="159.3,259.5 183.3,209.8 198.8,218.5 214.9,173.2 245.6,209.8 261.7,164.4 285,151.5" fill="none" stroke="url(#gL1)" stroke-width="2.5" stroke-linejoin="miter"/>
<polygon points="283.3,142.7 292.2,148 284.5,160.6" fill="url(#gAr1)"/>
<line x1="183.3" y1="214" x2="183.3" y2="266" stroke="#8090ee" stroke-width="1.3" stroke-dasharray="4.5,3.2"/>
<line x1="198.8" y1="223" x2="198.8" y2="257" stroke="#8090ee" stroke-width="1.3" stroke-dasharray="4.5,3.2"/>
<line x1="214.9" y1="178" x2="214.9" y2="248" stroke="#8090ee" stroke-width="1.3" stroke-dasharray="4.5,3.2"/>
<line x1="245.6" y1="213" x2="245.6" y2="230" stroke="#8090ee" stroke-width="1.3" stroke-dasharray="4.5,3.2"/>
<line x1="261.7" y1="169" x2="261.7" y2="221" stroke="#8090ee" stroke-width="1.3" stroke-dasharray="4.5,3.2"/>
<path d="M148.4,337.5Q148.4,334.5 151,333L312.4,239.3Q315,237.8 317.8,239L322,240.8Q324.8,242 324.8,245L324.8,301.8Q324.8,305.8 321.4,307.8L160.2,403.6Q156.8,405.6 153.3,403.7L151,402.4Q148.4,401 148.4,398Z" fill="url(#gPanE2)"/>
<path d="M152.2,340.5Q152.2,337.5 154.8,336L321.3,242.5Q324.8,240.5 324.8,244.5L324.8,300.8Q324.8,305.8 320.5,308.4L160.2,403.6Q156.8,405.6 154.5,404.3L153.9,404Q152.2,403 152.2,401Z" fill="url(#gPanF)"/>
<polyline points="167.3,381.2 198.8,327.6 229.9,345 269.1,296.8 292.7,309.4 308,273 333,259.5" fill="none" stroke="url(#gL2)" stroke-width="2" stroke-linejoin="miter"/>
<polygon points="330,251 339.2,256.2 331.5,270" fill="#6a10e4"/>
<ellipse cx="198.8" cy="327.4" rx="3.4" ry="4.9" fill="url(#gDot)"/>
<ellipse cx="229.9" cy="345.2" rx="3.4" ry="4.9" fill="url(#gDot)"/>
<ellipse cx="269.2" cy="296.6" rx="3.4" ry="4.9" fill="url(#gDot)"/>
<ellipse cx="292.7" cy="309.4" rx="3.4" ry="4.9" fill="url(#gDot)"/>
<path d="M646,11Q646,3 650.5,1.5L650.5,1.5Q655,0 661.9,4L863.2,120Q873.6,126 873.6,138L873.6,328.5Q873.6,336.5 867.8,339.8L867.8,339.8Q862,343 855.1,339L652.9,221Q646,217 646,209Z" fill="#cad6fb"/>
<path d="M641.4,11.5Q641.4,3.5 645.7,1.2L645.7,1.2Q650,-1 656.9,3L855.4,117.5Q867.5,124.5 867.5,138.5L867.5,326.5Q867.5,334.5 862.2,337.8L862.2,337.8Q857,341 848.3,336L652.6,222.5Q641.4,216 641.4,203Z" fill="#c6d3fb" transform="translate(3.5,-2.8)"/>
<path d="M641.4,11.5Q641.4,3.5 645.7,1.2L645.7,1.2Q650,-1 656.9,3L855.4,117.5Q867.5,124.5 867.5,138.5L867.5,326.5Q867.5,334.5 862.2,337.8L862.2,337.8Q857,341 848.3,336L652.6,222.5Q641.4,216 641.4,203Z" fill="url(#gDash)"/>
<path d="M651.3,24Q651.3,17 657.4,20.5L786.9,94.5Q793,98 793,105L793,229Q793,236 786.9,232.5L659.1,159.9Q651.3,155.5 651.3,146.5Z" fill="url(#gDIn)"/>
<path d="M651.3,173.3Q651.3,168.3 655.7,170.8L788.6,246Q793,248.5 793,253.5L793,285Q793,291 787.8,288L656.5,213.8Q651.3,210.8 651.3,204.8Z" fill="url(#gDBar)"/>
<path d="M802.8,111.5Q802.8,104.5 809,107.8L852.6,131.2Q858.8,134.5 858.8,141.5L858.8,320Q858.8,327 852.6,323.7L809,300.3Q802.8,297 802.8,290Z" fill="url(#gDCol)"/>
<path d="M812,123.8Q812,119.8 815.5,121.7L846.3,138.2Q849.8,140.1 849.8,144.1L849.8,177.4Q849.8,181.4 846.3,179.5L815.5,163Q812,161.1 812,157.1Z" fill="url(#gDP)"/>
<path d="M812,186.4Q812,182.4 815.5,184.3L846.3,200.8Q849.8,202.7 849.8,206.7L849.8,240Q849.8,244 846.3,242.1L815.5,225.6Q812,223.7 812,219.7Z" fill="url(#gDB)"/>
<path d="M812,249.2Q812,245.2 815.5,247.1L846.3,263.6Q849.8,265.5 849.8,269.5L849.8,302.8Q849.8,306.8 846.3,304.9L815.5,288.4Q812,286.5 812,282.5Z" fill="url(#gDR)"/>
<path d="M669.8,93.5C669.9,96.9 669.8,108.9 670.6,114.1C671.4,119.3 672.9,126.2 674.7,124.8C676.5,123.4 679.2,113.7 681.3,105.9C683.3,98 685.3,84.1 687,77.9C688.8,71.6 690.5,67.5 692,68.3C693.5,69.1 695.1,73.8 696.1,82.8C697.1,91.8 696.8,112.7 698.1,122.3C699.3,131.9 701.1,140.4 703.5,140.4C705.9,140.4 710,129.5 712.6,122.3C715.2,115.2 716.8,103.2 719.2,97.6C721.5,92.1 724.4,87.7 726.6,89.1C728.8,90.4 730.9,96.2 732.3,105.9C733.7,115.5 733.6,137.6 735,147C736.3,156.5 737.7,163.5 740.6,162.7C743.4,161.9 748.5,147.4 752.1,142.1C755.7,136.7 760.3,132.5 762,130.6" fill="none" stroke="url(#gW1)" stroke-width="2.8" stroke-linecap="round"/>
<path d="M692,110C692.1,112.6 691.9,121.3 692.5,125.6C693,129.9 693.9,136.9 695.3,135.8C696.7,134.7 699.4,125.7 701,119C702.7,112.4 703.7,101.1 705.2,96C706.6,90.9 708.2,87.5 709.6,88.6C711,89.7 712.3,95.3 713.4,102.6C714.5,109.8 715,124.3 716.2,132.2C717.4,140.1 718.6,149.2 720.5,150C722.3,150.8 725.1,143.1 727.4,137.2C729.6,131.2 731.9,119.3 734,114.1C736,108.9 738.1,105 739.7,105.9C741.4,106.7 742.7,111.4 743.9,119C745,126.7 745.4,143.9 746.7,152C747.9,160.1 749.3,167.1 751.3,167.6C753.3,168.2 756.3,159.2 758.7,155.3C761,151.3 763.3,146.1 765.3,143.7C767.2,141.4 768.8,139.3 770.2,141.3C771.6,143.2 772.8,148.5 773.5,155.3C774.2,162 774.5,177.2 774.7,181.6" fill="none" stroke="url(#gW2)" stroke-width="2.6" stroke-linecap="butt"/>
<polygon points="672.2,142 687.5,150.4 687.5,158 672.2,149.6" fill="url(#gLb)"/>
<polygon points="710,163.8 725.3,172.2 725.3,180 710,171.6" fill="url(#gLr)"/>
<polygon points="748,185.7 763.3,194.1 763.3,202.1 748,193.7" fill="url(#gLp)"/>
<polygon points="776.5,96 785.9,101.2 785.9,111.2 776.5,106" fill="url(#gLs)"/>
<polygon points="20.2,597.4 24.6,597.4 23,746 21.8,746" fill="#c6d7fb" opacity="1"/>
<circle cx="22.4" cy="577" r="22.4" fill="url(#gPin)" opacity="1"/>
<polygon points="820.8,425.3 825.2,425.3 823.6,700 822.4,700" fill="#c6d7fb" opacity="1"/>
<circle cx="823" cy="404.7" r="22.6" fill="url(#gPin)" opacity="1"/>
<polygon points="393.1,870 397.5,870 395.9,1046 394.7,1046" fill="#c6d7fb" opacity="1"/>
<circle cx="395.3" cy="850" r="22" fill="url(#gPin)" opacity="1"/>
<clipPath id="cPinH"><circle cx="395.3" cy="850" r="22"/></clipPath>
<g clip-path="url(#cPinH)" opacity="0.5"><ellipse cx="498.5" cy="872.7" rx="97" ry="58.3" fill="#0a4a8c"/><ellipse cx="498.5" cy="899" rx="97" ry="58.3" fill="#03245c" clip-path="url(#cHole)"/></g>
<path d="M352.5,497.5 L362.8,496.4 L363.9,504.1 C359.5,506.3 352.9,506.3 352.1,504.1 Z" fill="#0b2a63" />
<path d="M363.5,507.4 L372.7,506.3 C377.1,507 382.6,508.5 383.7,510.2 C382.6,512.9 370.5,516.2 362.8,515.7 Z" fill="#0b2a63" />
<path d="M352.9,414.1 L365,416.3 L363.3,496.9 L353.4,497.9 C352.9,465.7 350.7,439.3 352.9,414.1 Z" fill="#dfe8fd" />
<path d="M357.3,415.2 L378,417.8 C377.5,443.7 374.9,476.6 372.7,507 L363.9,507.8 C362.8,476.6 361.3,443.7 357.3,415.2 Z" fill="#f6f8ff" />
<path d="M365,340.1 L374.5,336.6 L378.8,344.9 L372.7,348.4 L366.1,344.5 Z" fill="#ff9c86" />
<path d="M350.7,355.9 C346.4,362.5 344.6,371.2 346.8,376.7 L350.7,374.5 L352.9,355.9 Z" fill="#4a90f9" />
<path d="M352.9,344.9 C358.4,342.3 367.2,341.8 373.8,344.9 L379.3,347.5 C381,355.9 381.9,373.4 381.5,386.6 L380.4,411.9 L377.5,418.2 L354,414.3 L344.6,408.6 C343.7,395.4 345.9,382.2 349.6,373.4 C345.9,371.2 346.4,364.7 349.6,355.9 C350.3,350.4 351.2,346.7 352.9,344.9 Z" fill="url(#gJ1)" />
<path d="M380.8,383.3 L384.3,382.2 C383.7,393.2 384.8,402 383.9,408.6 L381,411.4 Z" fill="#f43a2c" />
<path d="M370.1,353.7 C371.6,349.7 376,347.5 379.3,347.5 L385.2,347.5 C386.8,355.9 386.5,373.4 384.3,382.2 C382.8,385.3 379.7,385.3 378.2,382.2 C374.9,374.5 370.9,364.7 370.1,353.7 Z" fill="url(#gSl1v)" />
<path d="M376.2,331.7 C377.5,328.4 380.4,326.2 382.1,327.3 C383.9,331.7 384.3,337.2 382.8,342 L378.4,345.3 L373.8,341.8 L373.8,336.6 Z" fill="#ffb5a3" />
<path d="M377.5,339.6 C380.4,337.2 384.8,339.4 385.4,342.7 L383.9,347.8 L378.8,346.9 Z" fill="#ffa48f" />
<path d="M359.5,325.1 C358.4,316.4 366.1,310.9 373.8,313.1 C376,308.7 380.4,308 381.7,310.4 C383.9,314.2 383.9,319.6 381.7,324 C379.5,327.3 377.8,329.5 376.9,332.8 L374,337.4 C367.2,338.5 360.6,333.9 359.5,325.1 Z" fill="#0b2a63" />
<path d="M674.7,427.8 L689.4,426.6 L690.1,432.5 C685.2,435.4 676.8,435 674.7,432 Z" fill="#0b2a63" />
<path d="M690.9,432.5 L703.1,432 C707.3,431.4 711.5,431.4 712.8,432.9 C710.5,437.9 698.9,441.5 691.5,440.7 Z" fill="#0b2a63" />
<path d="M671.6,365.1 L688,369.8 L689.6,427.2 L674.7,428.7 Z" fill="url(#gLeg2)" />
<path d="M688,369.8 L704.4,371 L703.1,432.5 L690.5,433.3 Z" fill="url(#gLeg2)" />
<path d="M686.7,369.8 L688.8,369.8 L690.1,427.2 L688.4,427.2 Z" fill="#2a74f4" />
<path d="M688.8,258.9 L698.5,258.9 L699.3,264.6 L688.8,264.6 Z" fill="#ff9c86" />
<path d="M669.4,269.4 C674.7,263.1 685.2,261 694.7,262.1 C701,262.7 706.3,267.3 709.4,272.6 L724.1,271.5 L735.7,251.6 L744.8,253.7 L732.6,277.8 L721,294 L708.4,290.5 C708.4,308.3 710.5,337.8 711.1,367.2 L707.3,371.5 L680,369.8 L676.8,360.5 L673.7,366.2 L663.6,364.1 C662.1,346.2 663.1,325.2 665.2,308.3 C655.8,302 655.8,289.4 661,281 C663.1,275.7 666.3,272.2 669.4,269.4 Z" fill="url(#gCoat2)" />
<path d="M736.8,252 L740.1,245.2 L743.9,238.1 L745.2,245.2 L747.9,248.4 L746.4,253.2 L743.9,255.1 Z" fill="#ffb5a3" />
<path d="M692.6,320.5 L702.5,318 L702.5,328.3 L692.6,329.4 Z" fill="#a818ec" />
<path d="M692.6,320.5 L702.5,318 L702.5,328.3 L692.6,329.4 Z" fill="url(#gPk)" />
<path d="M690.1,328.1 C694.7,330.6 702.1,329.6 706.3,325.6 " fill="none" stroke="#6aa4f8" stroke-width="0.9"/>
<path d="M696,246.3 C697.8,243.6 701,242.7 702.7,243.6 C703.7,248.4 703.3,254.7 701.6,259.1 L695.7,260.6 L692.6,259.1 L695.1,253.2 Z" fill="#ffb5a3" />
<path d="M682.1,243.1 C681,237.9 687.3,234.7 693.6,235.8 L695.1,232.6 L697.2,234.7 L699.9,229.5 C703.1,233.7 702.3,240 701.2,243.1 C698.1,244.2 696.4,247.3 697,251.6 L695.1,253.7 L692.8,260.2 C686.3,261.2 682.1,253.7 682.1,243.1 Z" fill="#0b2a63" />
</svg>
</body></html>
